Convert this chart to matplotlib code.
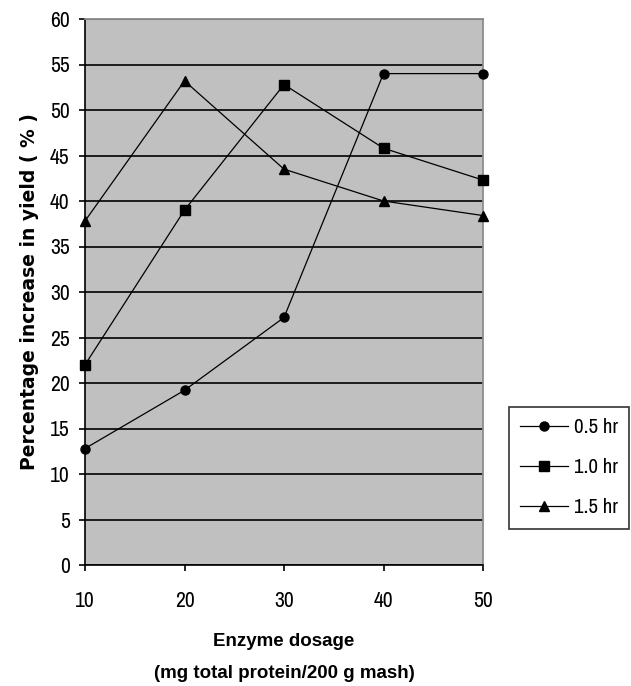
import matplotlib
matplotlib.use("Agg")
import matplotlib.pyplot as plt
from matplotlib import font_manager
from matplotlib.font_manager import FontProperties

dosage = [10, 20, 30, 40, 50]
series_labels = ["0.5 hr", "1.0 hr", "1.5 hr"]
yield_05 = [12.8, 19.2, 27.2, 54.0, 54.0]
yield_10 = [22.0, 39.0, 52.8, 45.8, 42.3]
yield_15 = [37.8, 53.2, 43.5, 40.0, 38.4]
y_ticks = list(range(0, 61, 5))
x_ticks = [10, 20, 30, 40, 50]

# pick a narrow font for the numbers if one is installed
narrow_path = None
cands = []
for f in font_manager.fontManager.ttflist:
    nm = f.name
    fn = f.fname.lower()
    if f.weight in ("normal", 400, "regular", "book") and f.style == "normal":
        if "Narrow" in nm or "narrow" in fn:
            cands.append((0, f.fname))
        elif "condensed" in fn and "bold" not in fn and "oblique" not in fn and "italic" not in fn:
            cands.append((1 if "dejavusans" in fn.replace("-", "") else 2, f.fname))
if cands:
    cands.sort()
    narrow_path = cands[0][1]

def num_font(size):
    if narrow_path:
        return FontProperties(fname=narrow_path, size=size)
    return FontProperties(family="Liberation Sans", size=size * 0.85)

plt.rcParams['font.family'] = ['Liberation Sans', 'DejaVu Sans']

fig = plt.figure(figsize=(6.31, 6.86), dpi=100)
ax = fig.add_axes([85/631, 1-565/686, (483-85)/631, (565-19)/686])
ax.set_facecolor("#c0c0c0")

markers = ["o", "s", "^"]
for vals, lab, m in zip([yield_05, yield_10, yield_15], series_labels, markers):
    ax.plot(dosage, vals, color="black", lw=0.9, marker=m, ms=6.5,
            markerfacecolor="black", markeredgecolor="black", label=lab, zorder=3,
            clip_on=False)

ax.set_xlim(10, 50)
ax.set_ylim(0, 60)
ax.set_xticks(x_ticks)
ax.set_yticks(y_ticks)
ax.yaxis.grid(True, color="black", lw=1.2)
ax.set_axisbelow(True)
for s in ["top", "right"]:
    ax.spines[s].set_color("#8c8c8c")
    ax.spines[s].set_linewidth(1.3)
for s in ["left", "bottom"]:
    ax.spines[s].set_color("black")
    ax.spines[s].set_linewidth(1.2)
ax.tick_params(axis="y", direction="out", length=4, width=1.2, colors="black", pad=7)
ax.tick_params(axis="x", direction="out", length=4.5, width=1.2, colors="black", pad=14)
for lbl in ax.get_xticklabels() + ax.get_yticklabels():
    lbl.set_fontproperties(num_font(15.5))

ax.set_ylabel("Percentage increase in yield ( % )", fontsize=13.5, fontweight="bold",
              labelpad=8, family=["DejaVu Sans"])
ax.set_xlabel("Enzyme dosage\n(mg total protein/200 g mash)", fontsize=13.5,
              fontweight="bold", labelpad=16, linespacing=2.15)

leg = ax.legend(loc="upper left", bbox_to_anchor=(509/631, 1-407/686),
                bbox_transform=fig.transFigure, frameon=True, fancybox=False,
                edgecolor="black", facecolor="white",
                handlelength=2.3, labelspacing=1.0, borderpad=0.55, handletextpad=0.25,
                borderaxespad=0.0, prop=num_font(15))
leg.get_frame().set_linewidth(1.2)

fig.savefig("out.png", dpi=100, facecolor="white")
